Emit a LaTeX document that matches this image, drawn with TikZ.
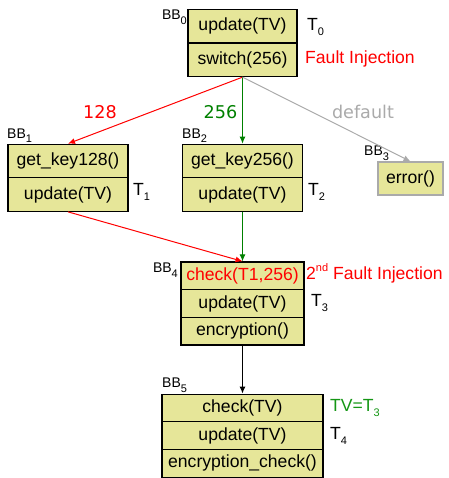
\documentclass[tikz,border=0pt]{standalone}
\usepackage{fontspec}
\setmainfont{Liberation Sans}
\newfontfamily\edgefont{DejaVu Sans}
\usetikzlibrary{arrows.meta}
\definecolor{boxfill}{RGB}{230,230,153}
\definecolor{edgegreen}{RGB}{0,128,0}
\definecolor{notegreen}{RGB}{20,150,20}
\definecolor{edgegrey}{RGB}{170,170,170}
\newcommand{\lsub}[1]{\raisebox{-0.3em}{\fontsize{11}{12}\selectfont #1}}
\newcommand{\lsup}[1]{\raisebox{0.45em}{\fontsize{11}{12}\selectfont #1}}
\tikzset{
  blk/.style={draw, line width=1.2pt, fill=boxfill, inner sep=0pt,
    font=\fontsize{17.6}{20}\selectfont},
  bblabel/.style={inner sep=0pt, font=\fontsize{14}{16}\selectfont},
  note/.style={inner sep=0pt, anchor=west, font=\fontsize{17.6}{20}\selectfont},
  elabel/.style={inner sep=0pt, font=\edgefont\fontsize{17.6}{20}\selectfont},
  flow/.style={line width=1pt, -{Latex[length=7pt,width=6pt]}},
}
\begin{document}
\begin{tikzpicture}[x=1pt, y=-1pt]
\useasboundingbox (0,0) rectangle (448,478);

% BB0
\node[blk, minimum width=109pt, minimum height=33.5pt] (b0a) at (242.5,26.3) {update(TV)};
\node[blk, minimum width=109pt, minimum height=33.5pt] (b0b) at (242.5,59.8) {switch(256)};
\node[bblabel, anchor=north east] (l0) at (187,10) {BB\lsub{0}};
\node[note] (t0) at (307,27) {T\lsub{0}};
\node[note, text=red] (fi1) at (305,58.5) {Fault Injection};

% BB1
\node[blk, minimum width=120pt, minimum height=33.5pt] (b1a) at (68,161) {get\_key128()};
\node[blk, minimum width=120pt, minimum height=33.5pt] (b1b) at (68,194.5) {update(TV)};
\node[bblabel, anchor=south west] (l1) at (7,142.5) {BB\lsub{1}};
\node[note] (t1) at (133,192) {T\lsub{1}};

% BB2
\node[blk, minimum width=120pt, minimum height=33.5pt] (b2a) at (242.5,161) {get\_key256()};
\node[blk, minimum width=120pt, minimum height=33.5pt] (b2b) at (242.5,194.5) {update(TV)};
\node[bblabel, anchor=south west] (l2) at (182,142.5) {BB\lsub{2}};
\node[note] (t2) at (308,192) {T\lsub{2}};

% BB3
\node[blk, draw=edgegrey, minimum width=65pt, minimum height=33pt] (b3) at (410.5,178.5) {error()};
\node[bblabel, anchor=south west] (l3) at (364,160.5) {BB\lsub{3}};

% BB4
\node[blk, minimum width=123pt, minimum height=27.7pt, text=red] (b4a) at (242.5,275.8) {check(T1,256)};
\node[blk, minimum width=123pt, minimum height=27.7pt] (b4b) at (242.5,303.5) {update(TV)};
\node[blk, minimum width=123pt, minimum height=27.7pt] (b4c) at (242.5,331.2) {encryption()};
\node[bblabel, anchor=north east] (l4) at (178,263) {BB\lsub{4}};
\node[note, text=red] (fi2) at (306,273.5) {2\lsup{nd} Fault Injection};
\node[note] (t3) at (311,303) {T\lsub{3}};

% BB5
\node[blk, minimum width=161pt, minimum height=27.7pt] (b5a) at (242.5,408) {check(TV)};
\node[blk, minimum width=161pt, minimum height=27.7pt] (b5b) at (242.5,435.7) {update(TV)};
\node[blk, minimum width=161pt, minimum height=27.7pt] (b5c) at (242.5,463.4) {encryption\_check()};
\node[bblabel, anchor=south west] (l5) at (162,392.5) {BB\lsub{5}};
\node[note, text=notegreen] (eq) at (330,408) {TV=T\lsub{3}};
\node[note] (t4) at (330,436) {T\lsub{4}};

% control flow
\draw[flow, red] (b0b.south) -- (b1a.north);
\draw[flow, edgegreen] (b0b.south) -- (b2a.north);
\draw[flow, edgegrey] (b0b.south) -- (b3.north);
\draw[flow, red] (b1b.south) -- (b4a.north);
\draw[flow, edgegreen] (b2b.south) -- (b4a.north);
\draw[flow, black] (b4c.south) -- (b5a.north);

% case labels
\node[elabel, text=red] (c128) at (100,112) {128};
\node[elabel, text=edgegreen] (c256) at (220.5,112) {256};
\node[elabel, text=edgegrey] (cdef) at (363,112) {default};
\end{tikzpicture}
\end{document}
